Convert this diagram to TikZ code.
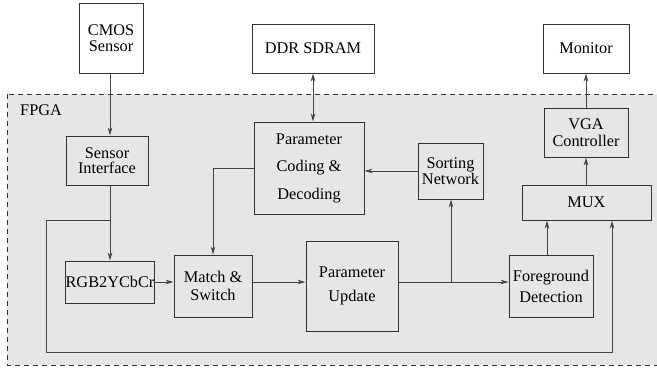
\documentclass[tikz,border=0pt]{standalone}
\usepackage{fontspec}
\setmainfont{Liberation Serif}
\usetikzlibrary{arrows.meta}
\definecolor{bgc}{HTML}{E6E6E6}
\definecolor{linec}{HTML}{333333}
\definecolor{conc}{HTML}{444444}
\tikzset{
  blk/.style={draw=linec, line width=1pt, align=center, inner sep=0pt, text=black},
  ls/.style={font=\fontsize{16.3}{#1}\selectfont},
  arr/.style={draw=conc, line width=0.8pt, -{Stealth[length=8pt,width=4.5pt,inset=2.5pt]}},
  darr/.style={draw=conc, line width=0.8pt, {Stealth[length=8pt,width=4.5pt,inset=2.5pt]}-{Stealth[length=8pt,width=4.5pt,inset=2.5pt]}},
  ln/.style={draw=conc, line width=0.8pt}
}
\begin{document}
\begin{tikzpicture}[x=1pt,y=-1pt]
\useasboundingbox (0,0) rectangle (657,368);
% FPGA region
\draw[fill=bgc, draw=linec, line width=0.9pt, dash pattern=on 5pt off 4pt] (7,94) rectangle (680,365);
\node[ls=16, anchor=west, inner sep=0pt] (fpga) at (20,110) {FPGA};
% outside boxes
\node[blk, fill=white, ls=16, minimum width=64, minimum height=70] (cmos) at (111,38) {CMOS\\Sensor};
\node[blk, fill=white, ls=16, minimum width=122, minimum height=49] (ddr) at (313,48.5) {DDR SDRAM};
\node[blk, fill=white, ls=16, minimum width=86, minimum height=49] (mon) at (586,48.5) {Monitor};
% inside boxes
\node[blk, ls=15, minimum width=82, minimum height=49] (si) at (107,160.5) {Sensor\\Interface};
\node[blk, ls=17, minimum width=84, minimum height=49] (vga) at (586,132.5) {VGA\\Controller};
\node[blk, ls=16, minimum width=65, minimum height=56] (sort) at (450.5,171) {Sorting\\Network};
\node[blk, ls=16, minimum width=129, minimum height=35] (mux) at (586.5,202.5) {MUX};
\node[blk, ls=27.5, minimum width=110, minimum height=92] (pcd) at (309,168) {Parameter\\Coding \&\\Decoding};
\node[blk, ls=16, minimum width=88, minimum height=42] (rgb) at (110,282) {RGB2YCbCr};
\node[blk, ls=18, minimum width=78, minimum height=62] (match) at (213,286) {Match \&\\Switch};
\node[blk, ls=24, minimum width=92, minimum height=90] (pu) at (352,286) {Parameter\\Update};
\node[blk, ls=21, minimum width=84, minimum height=62] (fg) at (551,286) {Foreground\\Detection};
% helper coordinates
\coordinate (br) at (110,220);
\coordinate (pb) at (451,282);
% connectors
\draw[arr] (110,73) coordinate (c1) -- (c1 |- si.north);
\draw[darr] (ddr.south) -- (ddr.south |- pcd.north);
\draw[arr] (vga.north) -- (mon.south);
\draw[arr] (mux.north -| vga.south) -- (vga.south);
\draw[arr] (sort.west) -- (sort.west -| pcd.east);
\draw[arr] (pcd.west) -| (match.north);
\draw[arr] (si.south -| br) -- (br |- rgb.north);
\draw[arr] (rgb.east |- 0,282) -- (match.west |- 0,282);
\draw[arr] (match.east |- 0,282) -- (pu.west |- 0,282);
\draw[arr] (pu.east |- pb) -- (fg.west |- pb);
\draw[arr] (pb) -- (sort.south -| pb);
\draw[arr] (fg.north -| 547,0) -- (mux.south -| 547,0);
\draw[arr] (br) -- (46,220) -- (46,352) -- (612,352) -- (mux.south -| 612,0);
\end{tikzpicture}
\end{document}
